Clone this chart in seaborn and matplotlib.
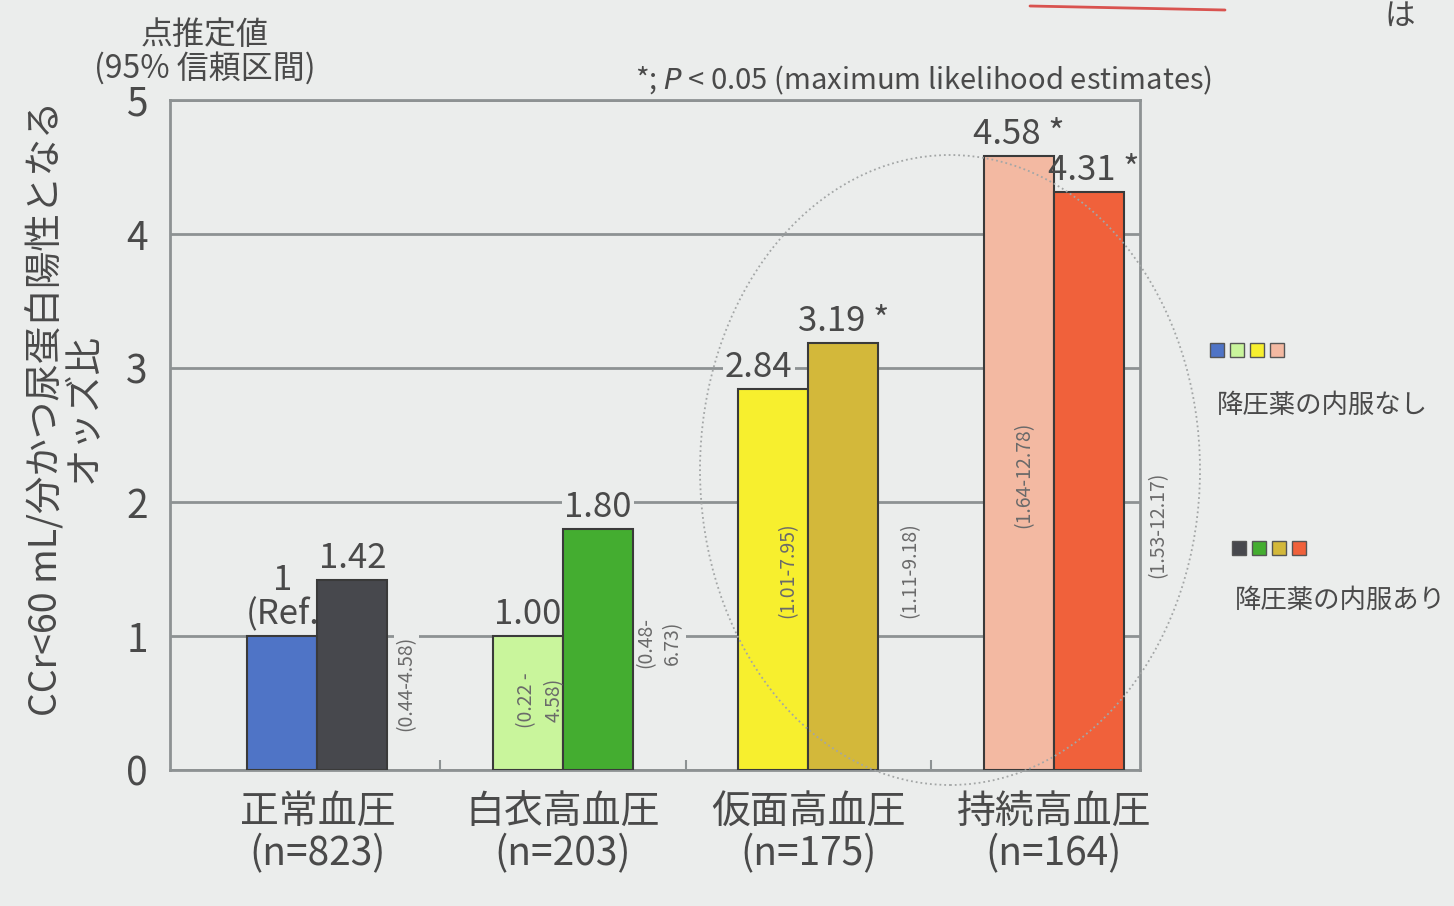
import matplotlib
matplotlib.use("Agg")
import matplotlib.pyplot as plt
from matplotlib.patches import Ellipse, Rectangle
from matplotlib.lines import Line2D
import pandas as pd
import seaborn as sns

# ---- data ----
groups = ["正常血圧\n(n=823)", "白衣高血圧\n(n=203)", "仮面高血圧\n(n=175)", "持続高血圧\n(n=164)"]
treatment = ["降圧薬の内服なし", "降圧薬の内服あり"]
odds_no_med = [1.00, 1.00, 2.84, 4.58]
odds_med = [1.42, 1.80, 3.19, 4.31]
labels_no_med = ["1\n(Ref.", "1.00", "2.84", "4.58 *"]
labels_med = ["1.42", "1.80", "3.19 *", "4.31 *"]
ci_no_med = [None, "(0.22 -\n4.58)", "(1.01-7.95)", "(1.64-12.78)"]
ci_med = ["(0.44-4.58)", "(0.48-\n6.73)", "(1.11-9.18)", "(1.53-12.17)"]
colors_no_med = ["#4f74c6", "#c9f59c", "#f7ef2e", "#f3b9a2"]
colors_med = ["#47484d", "#44ad30", "#d3b83a", "#f0613b"]

BG = "#ebedec"
TXT = "#4a4a4a"
GRID = "#8d9293"

sns.set_theme(style="white")
plt.rcParams["font.family"] = ["Noto Sans CJK JP", "DejaVu Sans"]
plt.rcParams["axes.unicode_minus"] = False

df = pd.DataFrame({
    "group": groups * 2,
    "treatment": [treatment[0]] * 4 + [treatment[1]] * 4,
    "odds": odds_no_med + odds_med,
})

W, H = 1454, 906
fig = plt.figure(figsize=(W / 100, H / 100), dpi=100, facecolor=BG)
ax = fig.add_axes([170 / W, 1 - 770 / H, 970 / W, 670 / H])
ax.set_facecolor(BG)

sns.barplot(data=df, x="group", y="odds", hue="treatment", order=groups,
            hue_order=treatment, width=0.57, gap=0, saturation=1,
            edgecolor="#3a3a3a", linewidth=1.5, legend=False, ax=ax, zorder=3)

palettes = [colors_no_med, colors_med]
value_labels = [labels_no_med, labels_med]
ci_labels = [ci_no_med, ci_med]
# CI text placement: (x offset from bar centre, y in odds units)
ci_pos = [
    [None, (0.05, 0.52), (0.06, 1.49), (0.02, 2.2)],
    [(0.22, 0.65), (0.25, 0.95), (0.27, 1.49), (0.28, 1.83)],
]
lab_box = dict(facecolor=BG, edgecolor="none", pad=1.5)

for k, cont in enumerate(ax.containers):
    for j, patch in enumerate(cont):
        patch.set_facecolor(palettes[k][j])
        cx = patch.get_x() + patch.get_width() / 2
        h = patch.get_height()
        txt = value_labels[k][j]
        dx = -0.06 if txt == "2.84" else (0.02 if txt == "4.31 *" else 0.0)
        # most value labels sit under the bars so their backing only hides
        # gridlines; the tallest pair is drawn on top without a backing
        top_pair = j == 3
        ax.text(cx + dx, h + 0.03, txt, ha="center", va="bottom",
                fontsize=25, color=TXT, linespacing=0.95,
                zorder=4 if top_pair else 2.5,
                bbox=None if top_pair else lab_box)
        if ci_labels[k][j] is not None:
            ox, oy = ci_pos[k][j]
            inside = k == 0
            ax.text(cx + ox, oy, ci_labels[k][j], rotation=90, ha="center",
                    va="center", fontsize=14, color="#6a6a6a", linespacing=1.4,
                    zorder=4 if inside else 2.5,
                    bbox=None if inside else dict(facecolor=BG, edgecolor="none", pad=1.5))

ax.set_ylim(0, 5)
ax.set_xlim(-0.6, 3.35)
ax.set_yticks(range(0, 6))
ax.set_axisbelow(True)
ax.yaxis.grid(True, color=GRID, linewidth=2)
ax.xaxis.grid(False)
for s in ax.spines.values():
    s.set_visible(True)
    s.set_color(GRID)
    s.set_linewidth(2)

ax.set_xticks([0.5, 1.5, 2.5], minor=True)
ax.tick_params(axis="x", which="minor", direction="in", length=7, width=1.5,
               color=GRID, bottom=True)
ax.tick_params(axis="x", which="major", length=0, pad=16, labelsize=28,
               labelcolor=TXT)
ax.tick_params(axis="y", length=0, pad=16, labelsize=28, labelcolor=TXT)
for t in ax.get_xticklabels():
    t.set_linespacing(1.05)

ax.set_xlabel("")
ax.set_ylabel("CCr<60 mL/分かつ尿蛋白陽性となる\nオッズ比", fontsize=27,
              color=TXT, linespacing=1.0)
ax.yaxis.label.set_va("center")
ax.yaxis.set_label_coords(-0.108, 0.54)

# top-left heading for the y scale
fig.text(205 / W, 1 - 52 / H, "点推定値\n(95% 信頼区間)", ha="center", va="center",
         fontsize=23, color=TXT, linespacing=1.05)

# significance note
fig.text(1212 / W, 1 - 97 / H, "*; $P$ < 0.05 (maximum likelihood estimates)",
         ha="right", va="bottom", fontsize=21, color=TXT)

# highlight ring around the masked / sustained groups
fig.add_artist(Ellipse((950 / W, 1 - 470 / H), 500 / W, 630 / H,
                       transform=fig.transFigure, fill=False, linestyle=":",
                       edgecolor="#a3a6a6", linewidth=1.3))

# legend: a row of colour chips above each label
def chip_row(x0, yc, cols):
    for i, c in enumerate(cols):
        fig.add_artist(Rectangle(((x0 + i * 20) / W, 1 - (yc + 7) / H), 14 / W,
                                 14 / H, transform=fig.transFigure,
                                 facecolor=c, edgecolor="#555555", linewidth=1))

chip_row(1210, 350, colors_no_med)
fig.text(1322 / W, 1 - 405 / H, treatment[0], ha="center", va="center",
         fontsize=19, color=TXT)
chip_row(1232, 548, colors_med)
fig.text(1340 / W, 1 - 600 / H, treatment[1], ha="center", va="center",
         fontsize=19, color=TXT)

# slide title fragment at the top edge
fig.add_artist(Line2D([1030 / W, 1225 / W], [1 - 6 / H, 1 - 10 / H],
                      transform=fig.transFigure, color="#d9534f", linewidth=2))
fig.text(1400 / W, 1 - 16 / H, "は", ha="center", va="center", fontsize=22,
         color=TXT)

fig.savefig("out.png", dpi=100, facecolor=BG)
